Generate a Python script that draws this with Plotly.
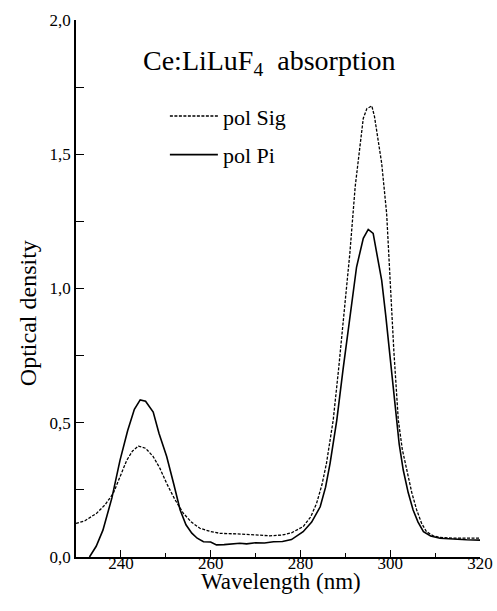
import plotly.graph_objects as go

# pol Sig (dashed)
sig_wl = [230.0, 232.0, 234.6, 236.5, 238.3, 239.8, 241.3, 242.6, 243.9, 245.5, 247.2, 248.7,
          250.2, 252.0, 253.9, 255.7, 257.6, 260.0, 262.1, 266.0, 270.0, 273.2, 276.0, 278.0,
          280.6, 282.3, 283.6, 284.8, 285.8, 287.3, 288.5, 289.8, 291.0, 292.2, 293.3, 294.0,
          294.8, 295.9, 296.5, 297.0, 298.1, 299.2, 300.0, 300.8, 301.8, 302.7, 303.7, 304.8,
          305.9, 307.0, 308.1, 309.5, 311.1, 314.0, 317.0, 320.0]
sig_od = [0.125, 0.135, 0.163, 0.195, 0.237, 0.30, 0.36, 0.395, 0.413, 0.405, 0.374, 0.33,
          0.274, 0.215, 0.163, 0.13, 0.107, 0.095, 0.088, 0.086, 0.083, 0.079, 0.082, 0.09,
          0.113, 0.15, 0.20, 0.27, 0.349, 0.51, 0.70, 0.92, 1.13, 1.38, 1.528, 1.634,
          1.67, 1.68, 1.64, 1.59, 1.466, 1.28, 1.03, 0.77, 0.51, 0.40, 0.324, 0.24,
          0.175, 0.125, 0.094, 0.08, 0.073, 0.07, 0.07, 0.07]

# pol Pi (solid)
pi_wl = [233.0, 234.5, 236.0, 238.0, 239.8, 241.5, 243.0, 244.3, 245.5, 247.2, 248.5, 250.2,
         251.8, 253.2, 254.5, 255.8, 257.0, 258.4, 260.0, 261.3, 263.0, 265.0, 266.5, 268.0,
         270.0, 272.0, 274.0, 276.0, 278.0, 280.6, 282.5, 284.4, 285.6, 286.6, 288.1, 289.5,
         291.0, 292.5, 294.0, 295.1, 296.2, 297.3, 298.1, 299.0, 300.2, 301.3, 302.0, 302.9,
         304.0, 305.1, 306.2, 307.4, 309.0, 311.1, 314.0, 317.0, 320.0]
pi_od = [0.0, 0.04, 0.10, 0.22, 0.36, 0.47, 0.55, 0.585, 0.58, 0.54, 0.46, 0.374,
         0.27, 0.175, 0.12, 0.089, 0.07, 0.057, 0.056, 0.045, 0.046, 0.050, 0.051, 0.049,
         0.053, 0.052, 0.057, 0.058, 0.065, 0.094, 0.13, 0.187, 0.26, 0.349, 0.51, 0.70,
         0.90, 1.08, 1.187, 1.22, 1.205, 1.106, 1.03, 0.90, 0.70, 0.51, 0.42, 0.324,
         0.24, 0.175, 0.13, 0.094, 0.078, 0.07, 0.066, 0.064, 0.063]

x_ticks = [240, 260, 280, 300, 320]
x_minor = [250, 270, 290, 310]
y_ticks = [0.0, 0.5, 1.0, 1.5, 2.0]
y_ticktext = ["0,0", "0,5", "1,0", "1,5", "2,0"]
y_minor = [0.25, 0.75, 1.25, 1.75]

FONT = "Liberation Serif"

fig = go.Figure()
fig.add_trace(go.Scatter(x=sig_wl, y=sig_od, mode="lines", name="pol Sig",
                         line=dict(color="black", width=1.3, dash="3px,1.5px"),
                         legendgroup="a"))
fig.add_trace(go.Scatter(x=pi_wl, y=pi_od, mode="lines", name="pol Pi",
                         line=dict(color="black", width=1.6),
                         legendgroup="b"))

fig.update_layout(
    width=497, height=611,
    margin=dict(l=76, r=17, t=20, b=54, autoexpand=False),
    paper_bgcolor="white", plot_bgcolor="white",
    font=dict(family=FONT, color="black", size=17),
    showlegend=True,
    legend=dict(x=0.22, y=0.86, xanchor="left", yanchor="top",
                font=dict(size=22, family=FONT), bgcolor="rgba(0,0,0,0)",
                traceorder="grouped", tracegroupgap=7, itemwidth=48),
    xaxis=dict(range=[230, 320], showgrid=False, zeroline=False, automargin=False,
               showline=True, linecolor="black", linewidth=1.5,
               ticks="inside", ticklen=7, tickwidth=1.3, tickcolor="black",
               tickvals=x_ticks, ticktext=[str(v) for v in x_ticks],
               tickfont=dict(size=17, family=FONT), ticklabelstandoff=-10,
               minor=dict(ticks="inside", ticklen=4, tickwidth=1.3, tickcolor="black",
                          tickvals=x_minor)),
    yaxis=dict(range=[0, 2.0], showgrid=False, zeroline=False, automargin=False,
               showline=True, linecolor="black", linewidth=1.5,
               ticks="inside", ticklen=8, tickwidth=1.3, tickcolor="black",
               tickvals=y_ticks, ticktext=y_ticktext,
               tickfont=dict(size=17, family=FONT), ticklabelstandoff=0,
               minor=dict(ticks="inside", ticklen=8, tickwidth=1.3, tickcolor="black",
                          tickvals=y_minor)),
)

fig.add_annotation(text="Ce:LiLuF<sub>4</sub>  absorption", xref="paper", yref="paper",
                   x=0.161, y=0.92, xanchor="left", yanchor="middle", showarrow=False,
                   font=dict(size=28, family=FONT, color="black"))
fig.add_annotation(text="Wavelength (nm)", xref="paper", yref="paper",
                   x=0.507, y=-0.046, xanchor="center", yanchor="middle", showarrow=False,
                   font=dict(size=23, family=FONT, color="black"))
fig.add_annotation(text="Optical density", xref="paper", yref="paper",
                   x=-0.119, y=0.454, xanchor="center", yanchor="middle", showarrow=False,
                   textangle=-90, font=dict(size=24, family=FONT, color="black"))

# remove the default 8px page margin so the figure sits at the window's top-left corner
fig.write_html("out.html",
               config={"displayModeBar": False},
               post_script="document.body.style.margin='0';document.body.style.overflow='hidden';")
